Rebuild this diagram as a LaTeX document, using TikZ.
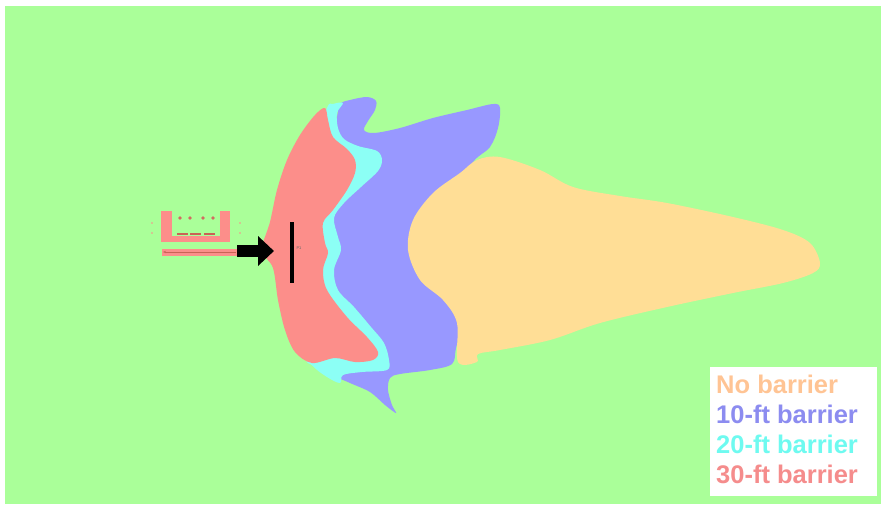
\documentclass[tikz,border=0pt]{standalone}
\usepackage{fontspec}
\setmainfont{Liberation Sans}
\usetikzlibrary{arrows.meta}

\definecolor{field}{RGB}{170,255,153}
\definecolor{nobar}{RGB}{255,222,150}
\definecolor{tenft}{RGB}{152,152,255}
\definecolor{twentyft}{RGB}{140,255,245}
\definecolor{thirtyft}{RGB}{252,142,138}
\definecolor{nobartext}{RGB}{255,196,148}
\definecolor{tentext}{RGB}{140,140,240}
\definecolor{twentytext}{RGB}{110,250,240}
\definecolor{thirtytext}{RGB}{245,140,140}
\definecolor{brick}{RGB}{200,100,85}

\tikzset{
  zone/.style={smooth cycle, tension=0.55},
  legend/.style={anchor=base west, inner sep=0pt, font=\bfseries\fontsize{25.5}{25.5}\selectfont},
}

\begin{document}
\begin{tikzpicture}[x=1pt,y=-1pt]
    \useasboundingbox (0,0) rectangle (881,504);
    \fill[white] (0,0) rectangle (881,504);
    \fill[field] (5,6) rectangle (881,504);

    % contours, largest first
    \fill[tenft] plot[zone] coordinates {(337,117) (340,104) (350,100) (367,97) (376,101) (375,110) (368,121) (364,130) (374,133) (400,128) (433,118) (467,110) (493,104) (500,108) (498,128) (490,147) (470,170) (482,230) (480,300) (462,330) (456,348) (452,364) (430,370) (400,374) (390,378) (388,390) (392,405) (396,413) (385,405) (370,392) (350,383) (338,377) (345,372) (380,370) (386,360) (380,343) (367,327) (350,307) (334,290) (330,270) (336,250) (333,237) (330,218) (340,203) (357,187) (373,171) (377,160) (372,152) (356,147) (341,140) (334,128)};
    \fill[twentyft] plot[zone] coordinates {(327,108) (333,104) (343,103) (337,113) (338,128) (344,139) (358,146) (377,151) (382,160) (378,171) (361,187) (344,203) (334,218) (338,237) (341,250) (334,270) (338,290) (354,307) (371,327) (384,343) (389,360) (387,370) (362,372) (343,375) (340,383) (327,377) (313,366) (305,350) (310,250) (315,150)};
    \fill[thirtyft] plot[zone] coordinates {(325,108) (328,120) (333,137) (347,149) (355,160) (355,173) (347,190) (333,210) (323,223) (325,243) (328,253) (323,270) (327,290) (347,317) (367,337) (378,352) (373,360) (355,362) (335,358) (312,363) (295,352) (285,330) (278,300) (273,268) (262,250) (270,222) (277,190) (287,160) (300,135) (315,115)};
    \fill[nobar] plot[zone] coordinates {(477,160) (500,157) (540,170) (573,187) (620,196) (667,203) (733,217) (783,230) (810,243) (820,263) (813,273) (783,283) (733,293) (667,307) (600,323) (550,340) (500,350) (478,354) (477,362) (458,362) (457,323) (443,300) (420,280) (408,250) (413,220) (433,193) (460,173)};

    % building and road
    \fill[thirtyft] (161,211) rectangle (172,242);
    \fill[thirtyft] (220,211) rectangle (230,242);
    \fill[thirtyft] (161,236) rectangle (230,242);
    \foreach \x in {180,190,203,213}
        \fill[brick!80!thirtyft] (\x,218) circle (1.8);
    \foreach \x in {177,190,204}
        \fill[brick] (\x,233) rectangle ++(11,2);
    \foreach \x in {152,240}
        \foreach \y in {223,233}
            \fill[thirtyft] (\x,\y) circle (0.9);
    \fill[thirtyft] (162,248.5) rectangle (237,255.5);
    \draw[brick, line width=0.8pt, {Stealth[length=3pt]}-] (163,252) -- (236,252);

    \coordinate (tail) at (237,251);
    \coordinate (tip) at (274,251);
    \draw[line width=12pt, -{Triangle[length=16pt,width=29pt]}] (tail) -- (tip);

    \node[fill=black, minimum width=3.5pt, minimum height=61pt, inner sep=0pt] (P1bar) at (292,252.5) {};
    \node[text=black!60, inner sep=0pt, font=\fontsize{4}{4}\selectfont] (P1) at (299,248) {P1};

    % legend
    \node[fill=white, minimum width=167pt, minimum height=129pt, inner sep=0pt] (key) at (793.5,431.5) {};
    \node[legend, text=nobartext] (k0) at (716,393) {No barrier};
    \node[legend, text=tentext] (k10) at (716,423) {10-ft barrier};
    \node[legend, text=twentytext] (k20) at (716,453) {20-ft barrier};
    \node[legend, text=thirtytext] (k30) at (716,483) {30-ft barrier};
\end{tikzpicture}
\end{document}
